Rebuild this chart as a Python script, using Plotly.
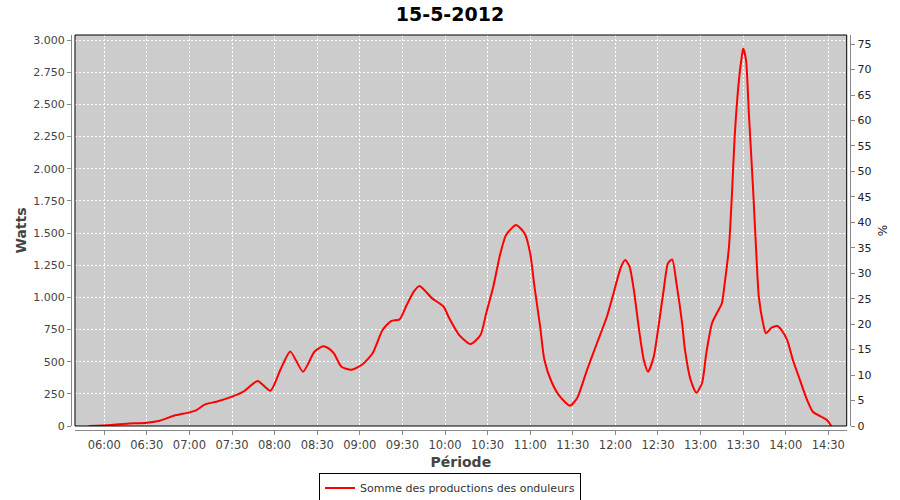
import plotly.graph_objects as go

title_text = "15-5-2012"
series_name = "Somme des productions des onduleurs"

times = ["05:49", "05:59", "06:16", "06:30", "06:39", "06:49", "07:00", "07:05", "07:11", "07:19",
         "07:30", "07:38", "07:48", "07:57", "08:04", "08:11", "08:20", "08:28", "08:34", "08:39",
         "08:42", "08:47", "08:54", "09:02", "09:09", "09:16", "09:22", "09:28", "09:33", "09:38",
         "09:42", "09:51", "09:59", "10:03", "10:10", "10:18", "10:25", "10:29", "10:34", "10:39",
         "10:43", "10:50", "10:56", "11:00", "11:03", "11:07", "11:10", "11:15", "11:21", "11:28",
         "11:33", "11:40", "11:47", "11:54", "11:59", "12:04", "12:07", "12:10", "12:13", "12:17",
         "12:20", "12:23", "12:27", "12:30", "12:34", "12:37", "12:40", "12:43", "12:47", "12:49",
         "12:53", "12:57", "13:01", "13:04", "13:08", "13:12", "13:15", "13:17", "13:20", "13:22",
         "13:24", "13:27", "13:29", "13:30", "13:32", "13:34", "13:37", "13:39", "13:41", "13:44",
         "13:46", "13:50", "13:54", "13:57", "14:01", "14:05", "14:10", "14:15", "14:19", "14:25",
         "14:29", "14:32"]
watts = [0, 4, 18, 26, 41, 80, 106, 124, 168, 189,
         228, 267, 350, 274, 435, 580, 422, 577, 620, 596,
         560, 461, 437, 480, 565, 746, 816, 829, 940, 1044,
         1088, 992, 927, 837, 707, 637, 707, 876, 1083, 1342,
         1484, 1562, 1498, 1342, 1083, 772, 513, 344, 228, 158,
         215, 435, 643, 849, 1044, 1238, 1290, 1238, 1057, 720,
         513, 422, 539, 746, 1057, 1264, 1295, 1109, 798, 591,
         357, 259, 332, 565, 798, 888, 954, 1109, 1394, 1782,
         2248, 2689, 2870, 2935, 2844, 2430, 1834, 1394, 1005, 798,
         720, 764, 777, 746, 668, 513, 357, 202, 111, 72,
         47, 0]

left_tick_vals = [0, 250, 500, 750, 1000, 1250, 1500, 1750, 2000, 2250, 2500, 2750, 3000]
left_tick_text = ["0", "250", "500", "750", "1.000", "1.250", "1.500", "1.750", "2.000",
                  "2.250", "2.500", "2.750", "3.000"]
right_tick_vals = [0, 5, 10, 15, 20, 25, 30, 35, 40, 45, 50, 55, 60, 65, 70, 75]
x_range = ["2012-05-15 05:39:24", "2012-05-15 14:42:54"]
left_range = [0, 3039]
right_range = [0, 76.8]

day = "2012-05-15 "
xs = [day + t for t in times]

fig = go.Figure()
fig.add_trace(go.Scatter(x=xs, y=watts, mode="lines", name=series_name,
                         line=dict(color="#ff0000", width=2, shape="spline", smoothing=0.6),
                         xaxis="x", yaxis="y"))
fig.add_trace(go.Scatter(x=[xs[0]], y=[0], mode="lines", showlegend=False, hoverinfo="skip",
                         line=dict(color="rgba(0,0,0,0)"), xaxis="x", yaxis="y2"))

font_fam = "DejaVu Sans, Liberation Sans, sans-serif"
tickfont = dict(family=font_fam, size=11, color="#444444")
grid = dict(showgrid=True, gridcolor="white", gridwidth=1, griddash="2px,2px")

xd0, xd1 = 0.00639, 0.99322
yd0 = 0.01013

fig.update_layout(
    width=900, height=500,
    margin=dict(l=70, r=48, t=35, b=70, autoexpand=False),
    paper_bgcolor="white", plot_bgcolor="#cccccc",
    title=dict(text="<b>" + title_text + "</b>", x=0.5, xanchor="center",
               y=0.972, yanchor="middle", yref="container",
               font=dict(family=font_fam, size=19, color="black")),
    xaxis=dict(domain=[xd0, xd1], anchor="free", position=0, type="date", range=x_range,
               tickformat="%H:%M", dtick=30 * 60 * 1000, tick0="2012-05-15 06:00",
               showline=True, linecolor="#888888", linewidth=1, ticks="outside", ticklen=4,
               tickcolor="#888888", tickfont=dict(family=font_fam, size=11.5, color="#444444"),
               zeroline=False, automargin=False,
               title=dict(text="<b>Période</b>", font=dict(family=font_fam, size=14, color="#444444"), standoff=6),
               **grid),
    yaxis=dict(domain=[yd0, 1], anchor="free", position=0.00128, range=left_range,
               tickvals=left_tick_vals, ticktext=left_tick_text,
               showline=True, linecolor="#888888", linewidth=1, ticks="outside", ticklen=4,
               tickcolor="#888888", tickfont=tickfont, zeroline=False, automargin=False,
               title=dict(text="<b>Watts</b>", font=dict(family=font_fam, size=14, color="#444444"), standoff=2),
               **grid),
    yaxis2=dict(domain=[yd0, 1], anchor="free", position=0.9978, overlaying="y", side="right",
                range=right_range, tickvals=right_tick_vals,
                showline=True, linecolor="#888888", linewidth=1, ticks="outside", ticklen=4,
                tickcolor="#888888", tickfont=dict(family=font_fam, size=11, color="#222222"),
                zeroline=False, showgrid=False, automargin=False,
                title=dict(text="%", font=dict(family=font_fam, size=12, color="#222222"), standoff=8)),
    legend=dict(orientation="h", x=0.5, xanchor="center", xref="container",
                y=0.024, yanchor="middle", yref="container",
                bordercolor="black", borderwidth=1, bgcolor="white",
                font=dict(family=font_fam, size=11, color="#333333"), itemwidth=30),
    showlegend=True,
)

fig.add_shape(type="rect", xref="paper", yref="paper", x0=xd0, x1=xd1, y0=yd0, y1=1,
              line=dict(color="black", width=1), fillcolor="rgba(0,0,0,0)", layer="above")

fig.write_html("out.html", config={"displayModeBar": False},
               post_script="document.body.style.margin='0';document.body.style.padding='0';")
